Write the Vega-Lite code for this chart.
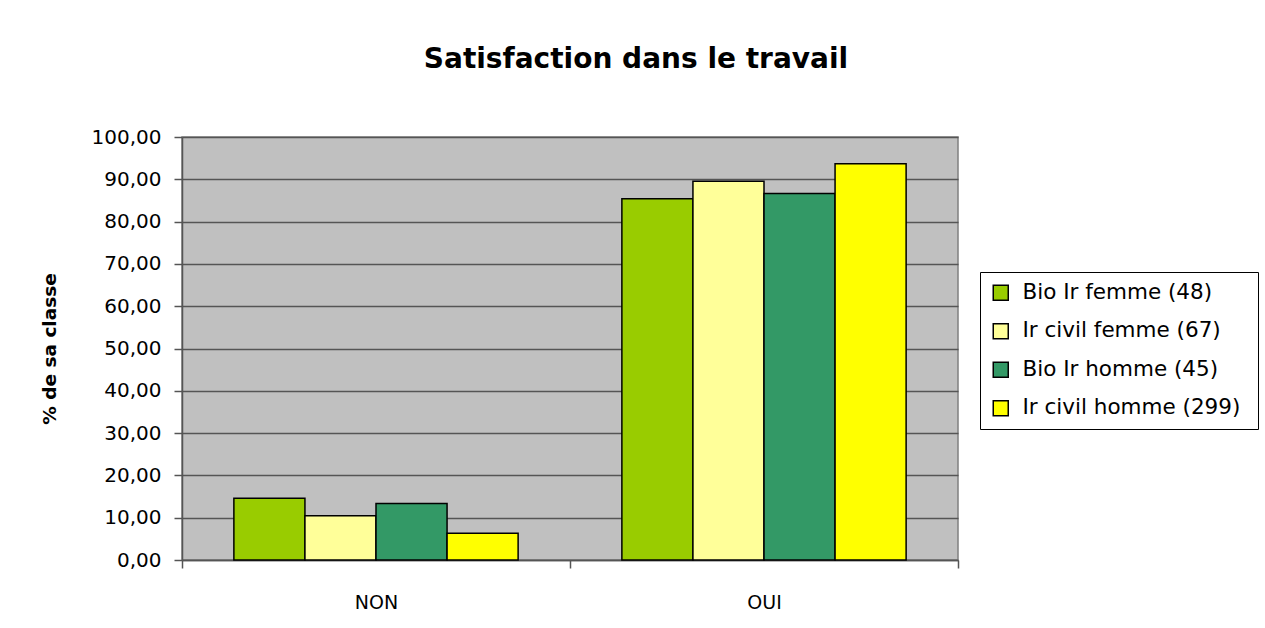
{
  "$schema": "https://vega.github.io/schema/vega-lite/v6.json",
  "width": 776,
  "height": 423,
  "autosize": {"type": "none"},
  "padding": {"left": 182, "top": 137, "right": 307, "bottom": 68},
  "background": "white",
  "title": {
    "text": "Satisfaction dans le travail",
    "font": "DejaVu Sans",
    "fontSize": 28,
    "fontWeight": "bold",
    "color": "black",
    "anchor": "middle",
    "dx": 66,
    "offset": 53
  },
  "data": {
    "values": [
      {"reponse": "NON", "groupe": "Bio Ir femme (48)", "pct": 14.58},
      {"reponse": "NON", "groupe": "Ir civil femme (67)", "pct": 10.45},
      {"reponse": "NON", "groupe": "Bio Ir homme (45)", "pct": 13.33},
      {"reponse": "NON", "groupe": "Ir civil  homme (299)", "pct": 6.35},
      {"reponse": "OUI", "groupe": "Bio Ir femme (48)", "pct": 85.42},
      {"reponse": "OUI", "groupe": "Ir civil femme (67)", "pct": 89.55},
      {"reponse": "OUI", "groupe": "Bio Ir homme (45)", "pct": 86.67},
      {"reponse": "OUI", "groupe": "Ir civil  homme (299)", "pct": 93.65}
    ]
  },
  "mark": {"type": "bar", "stroke": "black", "strokeWidth": 1.5},
  "encoding": {
    "x": {
      "field": "reponse",
      "type": "nominal",
      "scale": {"paddingInner": 0, "paddingOuter": 0},
      "axis": {
        "title": null,
        "labelAngle": 0,
        "labelFont": "DejaVu Sans",
        "labelFontSize": 19,
        "labelColor": "black",
        "labelPadding": 25,
        "tickBand": "extent",
        "tickSize": 8,
        "tickColor": "#555555",
        "domainColor": "#555555",
        "domainWidth": 1.5,
        "tickWidth": 1.5
      }
    },
    "xOffset": {
      "field": "groupe",
      "type": "nominal",
      "sort": ["Bio Ir femme (48)", "Ir civil femme (67)", "Bio Ir homme (45)", "Ir civil  homme (299)"],
      "scale": {"paddingInner": 0, "paddingOuter": 0.73}
    },
    "y": {
      "field": "pct",
      "type": "quantitative",
      "scale": {"domain": [0, 100], "nice": false},
      "axis": {
        "title": "% de sa classe",
        "titleFont": "DejaVu Sans",
        "titleFontSize": 18.5,
        "titleFontWeight": "bold",
        "titleColor": "black",
        "titlePadding": 32,
        "values": [0, 10, 20, 30, 40, 50, 60, 70, 80, 90, 100],
        "labelExpr": "replace(format(datum.value, '.2f'), '.', ',')",
        "labelFont": "DejaVu Sans",
        "labelFontSize": 20,
        "labelColor": "black",
        "labelPadding": 13,
        "tickSize": 8,
        "tickColor": "#555555",
        "tickWidth": 1.5,
        "domainColor": "#555555",
        "domainWidth": 1.5,
        "grid": true,
        "gridColor": "#555555",
        "gridWidth": 1.5
      }
    },
    "color": {
      "field": "groupe",
      "type": "nominal",
      "sort": ["Bio Ir femme (48)", "Ir civil femme (67)", "Bio Ir homme (45)", "Ir civil  homme (299)"],
      "scale": {
        "domain": ["Bio Ir femme (48)", "Ir civil femme (67)", "Bio Ir homme (45)", "Ir civil  homme (299)"],
        "range": ["#99CC00", "#FFFF99", "#339966", "#FFFF00"]
      },
      "legend": {
        "title": null,
        "orient": "none",
        "legendX": 798,
        "legendY": 135,
        "strokeColor": "black",
        "fillColor": "white",
        "padding": 10,
        "symbolType": "square",
        "symbolSize": 225,
        "symbolStrokeColor": "black",
        "symbolStrokeWidth": 1.5,
        "labelFont": "DejaVu Sans",
        "labelFontSize": 21.5,
        "labelColor": "black",
        "rowPadding": 15.5,
        "labelOffset": 11,
        "labelLimit": 320
      }
    }
  },
  "config": {
    "view": {"fill": "#C0C0C0", "stroke": "#808080", "strokeWidth": 1.5}
  }
}
